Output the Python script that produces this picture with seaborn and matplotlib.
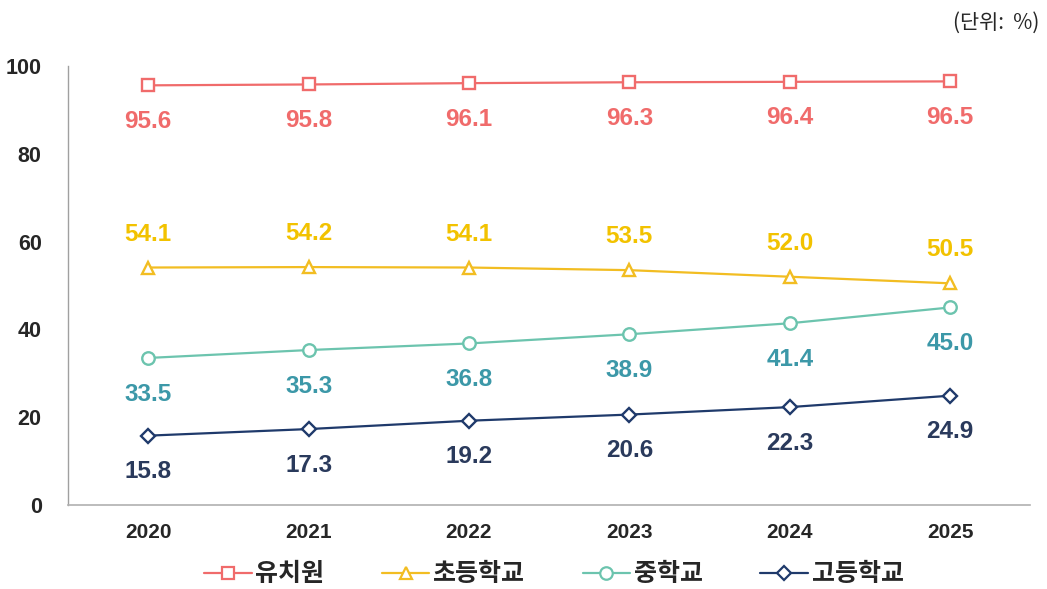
import numpy as np
import pandas as pd
import matplotlib
matplotlib.use("Agg")
import matplotlib.pyplot as plt
import seaborn as sns

# Data
years = ["2020", "2021", "2022", "2023", "2024", "2025"]
series_names = ["유치원", "초등학교", "중학교", "고등학교"]
kindergarten = [95.6, 95.8, 96.1, 96.3, 96.4, 96.5]
elementary = [54.1, 54.2, 54.1, 53.5, 52.0, 50.5]
middle = [33.5, 35.3, 36.8, 38.9, 41.4, 45.0]
high = [15.8, 17.3, 19.2, 20.6, 22.3, 24.9]
yticks = [0, 20, 40, 60, 80, 100]

line_colors = ["#F06B6B", "#F2BD22", "#6CC4AE", "#1F3A6B"]
label_colors = ["#F06B6B", "#F2C200", "#3C98A8", "#2A3A5C"]
markers = ["s", "^", "o", "D"]
label_offsets = [-26, 24, -26, -26]  # points, label above (+) or below (-)

sns.set_style("white")
plt.rcParams['font.family'] = ['Noto Sans CJK KR', 'DejaVu Sans']
num_font = ['Liberation Sans', 'DejaVu Sans']

df = pd.DataFrame({
    "year": years * 4,
    "x": list(range(len(years))) * 4,
    "value": kindergarten + elementary + middle + high,
    "series": np.repeat(series_names, len(years)),
})

fig = plt.figure(figsize=(10.47, 5.89), dpi=100)
ax = fig.add_axes([0.065, 0.1426, 0.919, 0.7453])

palette = dict(zip(series_names, line_colors))
marker_map = dict(zip(series_names, markers))
sns.lineplot(data=df, x="x", y="value", hue="series", style="series",
             palette=palette, markers=marker_map, dashes=False, ax=ax,
             linewidth=1.6, markersize=9, legend=False)

# open markers with coloured edges
for line, m, c in zip(ax.lines, markers, line_colors):
    line.set_markerfacecolor("white")
    line.set_markeredgecolor(c)
    line.set_markeredgewidth(1.7)
    line.set_markersize(7 if m == "D" else 9)

# value labels
for name, lc, off in zip(series_names, label_colors, label_offsets):
    sub = df[df["series"] == name]
    for x, v in zip(sub["x"], sub["value"]):
        ax.annotate(f"{v:.1f}", (x, v), xytext=(0, off), textcoords="offset points",
                    ha="center", va="center", fontsize=17.5, fontweight="bold",
                    color=lc, family=num_font)

ax.set_xlim(-0.5, len(years) - 0.5)
ax.set_ylim(0, 100)
ax.set_yticks(yticks)
ax.set_yticklabels([str(t) for t in yticks], fontsize=15.5, fontweight="bold",
                   family=num_font)
ax.set_xticks(range(len(years)))
ax.set_xticklabels(years, fontsize=15, fontweight="bold", family=num_font)
ax.set_xticks(np.arange(-0.5, len(years)), minor=True)
ax.tick_params(axis="x", which="major", length=0, pad=13)
ax.tick_params(axis="x", which="minor", length=6, color="#B0B0B0", direction="out")
ax.tick_params(axis="y", length=5, color="#A0A0A0", direction="in", pad=19)
ax.set_xlabel("")
ax.set_ylabel("")

for s in ["top", "right"]:
    ax.spines[s].set_visible(False)
ax.spines["left"].set_color("#A0A0A0")
ax.spines["bottom"].set_color("#B0B0B0")
ax.spines["left"].set_linewidth(1.0)
ax.spines["bottom"].set_linewidth(1.2)

# legend
handles = [plt.Line2D([], [], color=c, marker=m, markerfacecolor="white",
                      markeredgecolor=c, markeredgewidth=1.6, linewidth=1.6,
                      markersize=7 if m == "D" else 9)
           for c, m in zip(line_colors, markers)]
fig.legend(handles, series_names, loc="center", bbox_to_anchor=(0.529, 0.025),
           ncol=4, frameon=False, handlelength=1.9,
           handletextpad=0.15, columnspacing=2.3,
           prop={"family": "Noto Sans CJK KR", "size": 18, "weight": "bold"})

fig.text(0.993, 0.962, "(단위:  %)", ha="right", va="center", fontsize=15)

fig.savefig("out.png", dpi=100)
